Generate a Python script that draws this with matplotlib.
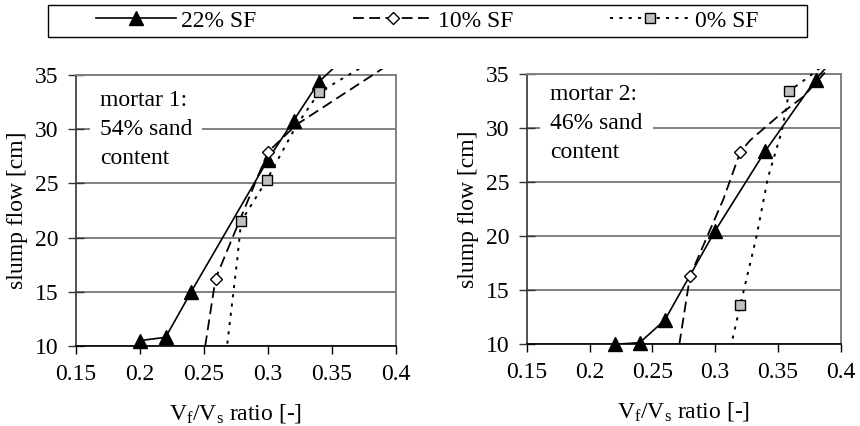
import matplotlib
matplotlib.use('Agg')
import matplotlib.pyplot as plt
from matplotlib.patches import Rectangle
from matplotlib.lines import Line2D

plt.rcParams['font.family'] = ['Liberation Serif', 'DejaVu Serif']
plt.rcParams['mathtext.default'] = 'regular'

# ---------------- data ----------------
series_labels = ['22% SF', '10% SF', '0% SF']
panel_notes = ['mortar 1:\n54% sand\ncontent', 'mortar 2:\n46% sand\ncontent']
x_label = r'V$_\mathregular{f}$/V$_\mathregular{s}$ ratio [-]'
y_label = 'slump flow [cm]'
x_ticks = [0.15, 0.2, 0.25, 0.3, 0.35, 0.4]
x_tick_labels = ['0.15', '0.2', '0.25', '0.3', '0.35', '0.4']
y_ticks = [10, 15, 20, 25, 30, 35]

# mortar 1 - measured points (markers)
m1_sf22_x = [0.20, 0.22, 0.24, 0.30, 0.32, 0.34]
m1_sf22_y = [10.5, 10.8, 15.0, 27.2, 30.8, 34.4]
m1_sf10_x = [0.259, 0.30]
m1_sf10_y = [16.2, 27.9]
m1_sf0_x = [0.279, 0.299, 0.34]
m1_sf0_y = [21.5, 25.3, 33.4]

# mortar 1 - curve traces (lines)
m1_sf22_cx = [0.20, 0.22, 0.24, 0.30, 0.32, 0.34, 0.36]
m1_sf22_cy = [10.5, 10.8, 15.0, 27.2, 30.8, 34.4, 36.6]
m1_sf10_cx = [0.249, 0.259, 0.30, 0.322, 0.40]
m1_sf10_cy = [8.5, 16.2, 27.9, 30.4, 36.4]
m1_sf0_cx = [0.267, 0.268, 0.272, 0.276, 0.279, 0.299, 0.322, 0.34, 0.37, 0.38]
m1_sf0_cy = [8.5, 10.0, 14.0, 18.0, 21.5, 25.3, 30.3, 33.4, 35.5, 36.2]

# mortar 2 - measured points (markers)
m2_sf22_x = [0.22, 0.24, 0.26, 0.30, 0.34, 0.38]
m2_sf22_y = [10.0, 10.15, 12.25, 20.5, 27.9, 34.5]
m2_sf10_x = [0.28, 0.32]
m2_sf10_y = [16.3, 27.8]
m2_sf0_x = [0.32, 0.359]
m2_sf0_y = [13.6, 33.45]

# mortar 2 - curve traces
m2_sf22_cx = [0.22, 0.24, 0.26, 0.30, 0.34, 0.38, 0.40]
m2_sf22_cy = [10.0, 10.15, 12.25, 20.5, 27.9, 34.5, 37.2]
m2_sf10_cx = [0.2695, 0.28, 0.296, 0.3065, 0.32, 0.328, 0.353, 0.370, 0.39, 0.40]
m2_sf10_cy = [8.5, 16.3, 20.6, 23.4, 27.8, 28.9, 31.4, 32.9, 35.5, 36.8]
m2_sf0_cx = [0.309, 0.32, 0.333, 0.342, 0.353, 0.3565, 0.359, 0.375, 0.39]
m2_sf0_cy = [8.0, 13.6, 20.0, 25.4, 29.7, 31.85, 33.45, 34.8, 36.2]

# ---------------- styles ----------------
FS = 17
styles = [
    dict(color='black', lw=1.2, ls='-', marker='^', ms=9.5, mfc='black', mec='black'),
    dict(color='black', lw=1.3, ls=(0, (6, 3)), marker='D', ms=6.5, mfc='white', mec='black'),
    dict(color='black', lw=1.4, ls=(0, (1.6, 3.2)), marker='s', ms=7, mfc='#c0c0c0', mec='black'),
]

panels = [
    dict(pts=[(m1_sf22_x, m1_sf22_y), (m1_sf10_x, m1_sf10_y), (m1_sf0_x, m1_sf0_y)],
         curves=[(m1_sf22_cx, m1_sf22_cy), (m1_sf10_cx, m1_sf10_cy), (m1_sf0_cx, m1_sf0_cy)],
         note=panel_notes[0], rect=[76 / 860, 1 - 346 / 426, 320 / 860, 271 / 426], note_y=0.945),
    dict(pts=[(m2_sf22_x, m2_sf22_y), (m2_sf10_x, m2_sf10_y), (m2_sf0_x, m2_sf0_y)],
         curves=[(m2_sf22_cx, m2_sf22_cy), (m2_sf10_cx, m2_sf10_cy), (m2_sf0_cx, m2_sf0_cy)],
         note=panel_notes[1], rect=[526.7 / 860, 1 - 344.3 / 426, 314 / 860, 270 / 426], note_y=0.965),
]

fig = plt.figure(figsize=(8.6, 4.26), dpi=100)

for p in panels:
    ax = fig.add_axes(p['rect'])
    ax.set_xlim(0.15, 0.4)
    ax.set_ylim(10, 35)
    ax.set_axisbelow(True)
    ax.yaxis.grid(True, color='#808080', lw=1.4)
    clip = Rectangle((0, 0), 1, 1.021, transform=ax.transAxes, visible=False)
    ax.add_patch(clip)
    for (cx, cy), st in zip(p['curves'], styles):
        ln, = ax.plot(cx, cy, color=st['color'], lw=st['lw'], ls=st['ls'], zorder=3)
        ln.set_clip_path(clip)
    for (x, y), st in zip(p['pts'], styles):
        ax.plot(x, y, ls='none', marker=st['marker'], ms=st['ms'], mfc=st['mfc'],
                mec=st['mec'], mew=1.0, zorder=4, clip_on=False)
    ax.set_xticks(x_ticks)
    ax.set_xticklabels(x_tick_labels)
    ax.set_yticks(y_ticks)
    ax.tick_params(axis='y', direction='inout', length=11, width=1, labelsize=FS, pad=7,
                   color='#333333')
    ax.tick_params(axis='x', direction='out', length=6, width=1, labelsize=FS, pad=7)
    for s in ['top', 'right']:
        ax.spines[s].set_color('#808080')
        ax.spines[s].set_linewidth(1.4)
    ax.spines['left'].set_color('#333333')
    ax.spines['left'].set_linewidth(1.2)
    ax.spines['bottom'].set_color('black')
    ax.spines['bottom'].set_linewidth(1.2)
    ax.set_xlabel(x_label, fontsize=FS, labelpad=12)
    ax.set_ylabel(y_label, fontsize=FS, labelpad=5)
    ax.text(0.075, p['note_y'], p['note'], transform=ax.transAxes, va='top', ha='left',
            fontsize=FS, linespacing=1.5, zorder=2,
            bbox=dict(boxstyle='square,pad=0.42', fc='white', ec='none'))

handles = [Line2D([], [], color=st['color'], lw=st['lw'], ls=st['ls'], marker=st['marker'],
                  ms=st['ms'], mfc=st['mfc'], mec=st['mec'], mew=1.0) for st in styles]
fig.legend(handles, series_labels, loc='center', bbox_to_anchor=(427.2 / 860, 1 - 20.85 / 426),
           ncol=3, frameon=False, fontsize=FS, handlelength=3.4, handletextpad=0.2,
           columnspacing=4.1)
fig.add_artist(Rectangle((47.7 / 860, 1 - 36.7 / 426), (806.7 - 47.7) / 860, 31.7 / 426,
                         transform=fig.transFigure, fill=False, edgecolor='black', lw=1.0))

fig.savefig('out.png', dpi=100)
